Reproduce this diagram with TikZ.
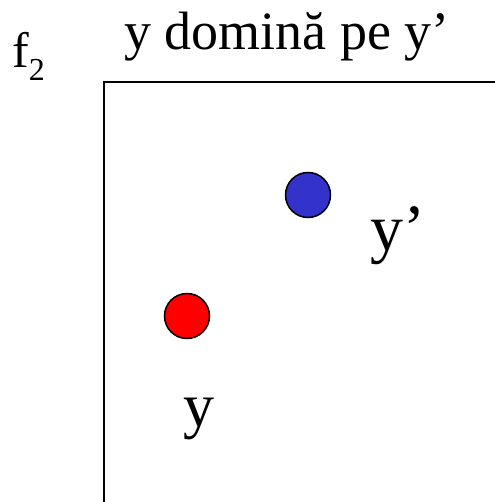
\documentclass[tikz,border=0pt]{standalone}
\usepackage{fontspec}
\setmainfont{Liberation Serif}
\usepackage{graphicx}
\definecolor{ptblue}{HTML}{3333CC}
\definecolor{ptred}{HTML}{FF0000}
\begin{document}
\begin{tikzpicture}[x=1pt,y=-1pt,
  pt/.style={circle,draw=black,line width=1.5pt,minimum size=45pt,inner sep=0pt},
  lbl/.style={inner sep=0pt,anchor=base west},
  axis/.style={line width=2.2pt,line cap=rect}]
\useasboundingbox (0,0) rectangle (494,502);
\coordinate (o) at (104,82);
\coordinate (xe) at (496,82);
\coordinate (ye) at (104,504);
\draw[axis] (xe) -- (o) -- (ye);
\node[lbl] (title) at (124,50) {\fontsize{54}{60}\selectfont y domină pe y’};
\node[lbl] (f2) at (12,68) {\fontsize{50}{55}\selectfont f\raisebox{-13pt}{\fontsize{32}{36}\selectfont 2}};
\node[pt,fill=ptblue] (yp) at (308,195) {};
\node[pt,fill=ptred] (y) at (187,316) {};
\node[lbl] (yplbl) at (370,250) {\fontsize{66}{70}\selectfont y’};
\node[lbl] (ylbl) at (183,426) {\fontsize{62}{65}\selectfont y};
\end{tikzpicture}
\end{document}
